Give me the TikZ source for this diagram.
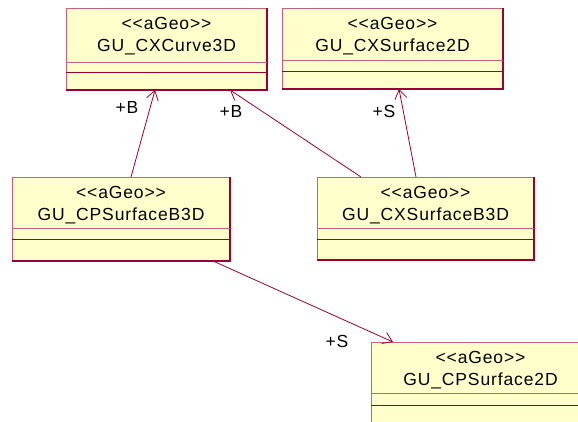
\documentclass[tikz,border=0pt]{standalone}
\usepackage{fontspec}
\setmainfont{Liberation Sans}[LetterSpace=5]
\usetikzlibrary{arrows.meta,calc}
\definecolor{umlfill}{HTML}{FFFFCC}
\definecolor{umlline}{HTML}{990033}
\definecolor{umllight}{HTML}{C8607F}
\newcommand\sgl{\char"3C\relax}
\newcommand\sgr{\char"3E\relax}
\newcommand\umlclass[8]{%
  \node[umlbox, minimum width=#4pt, minimum height=#5pt] (#1) at (#2,#3) {};
  \draw[umlline, line width=2pt] (#1.north east) -- (#1.south east) -- (#1.south west);
  \draw[umllight, line width=1pt] ($(#1.north west)+(0,#6)$) -- ($(#1.north east)+(0,#6)$);
  \draw[umlline, line width=1pt] ($(#1.north west)+(0,#7)$) -- ($(#1.north east)+(0,#7)$);
  \node[lbl, anchor=base] (#1-st) at ($(#1.north)+(0,21)$) {\sgl\sgl aGeo\sgr\sgr};
  \node[lbl, anchor=base] (#1-nm) at ($(#1.north)+(0,43)$) {#8};
}
\begin{document}
\begin{tikzpicture}[x=1pt,y=-1pt,
  umlbox/.style={draw=umllight, fill=umlfill, line width=1pt, inner sep=0pt, anchor=north west},
  lbl/.style={font=\fontsize{17.5}{20}\selectfont, inner sep=0pt, text=black},
  conn/.style={draw=umlline, line width=0.8pt, -{Straight Barb[length=9pt,width=12pt]}},
]
\useasboundingbox (0,0) rectangle (578,421);
\clip (0,0) rectangle (578,421);

\umlclass{cxc}{66}{8}{200}{81}{54}{64}{GU\_CXCurve3D}
\umlclass{cxs2}{282}{8}{220}{80}{52}{63}{GU\_CXSurface2D}
\umlclass{cpb3}{12}{177}{217}{83}{51}{62}{GU\_CPSurfaceB3D}
\umlclass{cxb3}{317}{177}{216}{82}{51}{62}{GU\_CXSurfaceB3D}
\umlclass{cps2}{371}{342}{218}{100}{51}{63}{GU\_CPSurface2D}

\draw[conn] ($(cpb3.north west)+(119,0)$) -- ($(cxc.south west)+(89,0)$);
\draw[conn] ($(cxb3.north west)+(44,0)$) -- ($(cxc.south west)+(164,0)$);
\draw[conn] ($(cxb3.north west)+(99,0)$) -- ($(cxs2.south west)+(117,0)$);
\draw[conn] ($(cpb3.south west)+(201,0)$) -- ($(cps2.north west)+(22,0)$);

\node[lbl] (l1) at (127,107) {+B};
\node[lbl] (l2) at (231,111) {+B};
\node[lbl] (l3) at (384,111) {+S};
\node[lbl] (l4) at (337,341) {+S};
\end{tikzpicture}
\end{document}
